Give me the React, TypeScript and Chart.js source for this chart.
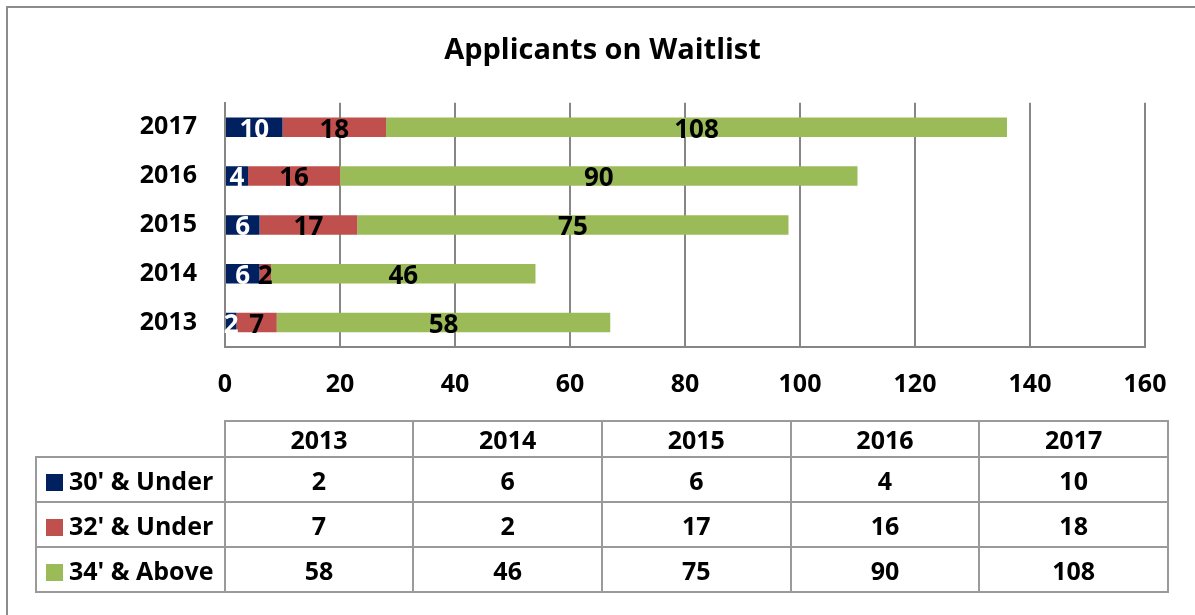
import React, { useEffect, useRef } from "react";
import { Chart, registerables } from "chart.js";

Chart.register(...registerables);

const categories = ["2017", "2016", "2015", "2014", "2013"];
const tableYears = ["2013", "2014", "2015", "2016", "2017"];
const under30 = [10, 4, 6, 6, 2];
const under32 = [18, 16, 17, 2, 7];
const above34 = [108, 90, 75, 46, 58];
const seriesNames = ["30' & Under", "32' & Under", "34' & Above"];
const seriesColors = ["#002060", "#C0504D", "#9BBB59"];
const labelColors = ["#FFFFFF", "#000000", "#000000"];
const xTicks = [0, 20, 40, 60, 80, 100, 120, 140, 160];

const FONT = "'Open Sans', sans-serif";

const valueLabels = {
  id: "valueLabels",
  afterDatasetsDraw(chart: any) {
    const ctx = chart.ctx;
    ctx.save();
    ctx.font = `bold 26px ${FONT}`;
    ctx.textAlign = "center";
    ctx.textBaseline = "middle";
    chart.data.datasets.forEach((ds: any, di: number) => {
      const meta = chart.getDatasetMeta(di);
      meta.data.forEach((bar: any, i: number) => {
        const p = bar.getProps(["x", "y", "base"], true);
        const cx = (p.x + p.base) / 2;
        ctx.fillStyle = labelColors[di];
        ctx.fillText(String(ds.data[i]), cx, p.y + 3);
      });
    });
    ctx.restore();
  },
};

export default function App() {
  const ref = useRef<HTMLCanvasElement | null>(null);

  useEffect(() => {
    document.body.style.margin = "0";
    const seriesData = [under30, under32, above34];
    const chart = new Chart(ref.current as HTMLCanvasElement, {
      type: "bar",
      data: {
        labels: categories,
        datasets: seriesNames.map((n, i) => ({
          label: n,
          data: seriesData[i],
          backgroundColor: seriesColors[i],
          borderWidth: 0,
          barPercentage: 0.4,
          categoryPercentage: 1,
        })),
      },
      options: {
        indexAxis: "y",
        animation: false,
        responsive: false,
        layout: { padding: { left: 60, right: 50, top: 0, bottom: 218 } },
        plugins: {
          legend: { display: false },
          tooltip: { enabled: false },
          title: {
            display: true,
            text: "Applicants on Waitlist",
            color: "#000",
            font: { family: FONT, size: 29, weight: "bold" },
            padding: { top: 33, bottom: 35 },
          },
        },
        scales: {
          x: {
            stacked: true,
            min: 0,
            max: 160,
            afterBuildTicks: (s: any) => {
              s.ticks = xTicks.map((v) => ({ value: v }));
            },
            afterFit: (s: any) => {
              s.height = 50;
            },
            grid: { color: "#868686", lineWidth: 2, drawTicks: false },
            border: { display: true, color: "#868686", width: 2 },
            ticks: {
              padding: 23,
              color: "#000",
              font: { family: FONT, size: 25, weight: "bold" },
            },
          },
          y: {
            stacked: true,
            afterFit: (s: any) => {
              s.width = 165;
            },
            grid: { display: false, drawTicks: false },
            border: { display: true, color: "#868686", width: 2 },
            ticks: {
              padding: 28,
              color: "#000",
              font: { family: FONT, size: 25, weight: "bold" },
            },
          },
        },
      },
      plugins: [valueLabels],
    });
    return () => chart.destroy();
  }, []);

  const rows = [under30, under32, above34].map((arr) => [...arr].reverse());
  const border = "2px solid #9A9A9A";
  const cellFont: React.CSSProperties = {
    fontFamily: FONT,
    fontWeight: "bold",
    fontSize: 25,
    lineHeight: "30px",
    color: "#000",
    textAlign: "center",
    padding: 0,
  };

  return (
    <div style={{ position: "fixed", left: 0, top: 0, width: 1195, height: 615, overflow: "hidden", background: "#fff" }}>
      <div style={{ position: "absolute", left: 6, top: 6, width: 1400, height: 800, border: "2px solid #8C8C8C" }} />
      <canvas ref={ref} width={1195} height={615} style={{ position: "absolute", left: 0, top: 0, width: 1195, height: 615 }} />
      <table
        style={{
          position: "absolute",
          left: 35,
          top: 420,
          width: 1134,
          borderCollapse: "collapse",
          tableLayout: "fixed",
        }}
      >
        <tbody>
          <tr style={{ height: 36 }}>
            <td style={{ ...cellFont, border: "none" }} />
            {tableYears.map((y) => (
              <td key={y} style={{ ...cellFont, border }}>{y}</td>
            ))}
          </tr>
          {seriesNames.map((n, si) => (
            <tr key={n} style={{ height: 45 }}>
              <td style={{ ...cellFont, border, textAlign: "left", paddingLeft: 9, whiteSpace: "nowrap", overflow: "hidden" }}>
                <span
                  style={{
                    display: "inline-block",
                    width: 17,
                    height: 17,
                    background: seriesColors[si],
                    marginRight: 6,
                    verticalAlign: "-1px",
                  }}
                />
                {n}
              </td>
              {rows[si].map((v, i) => (
                <td key={i} style={{ ...cellFont, border }}>{v}</td>
              ))}
            </tr>
          ))}
        </tbody>
      </table>
    </div>
  );
}
